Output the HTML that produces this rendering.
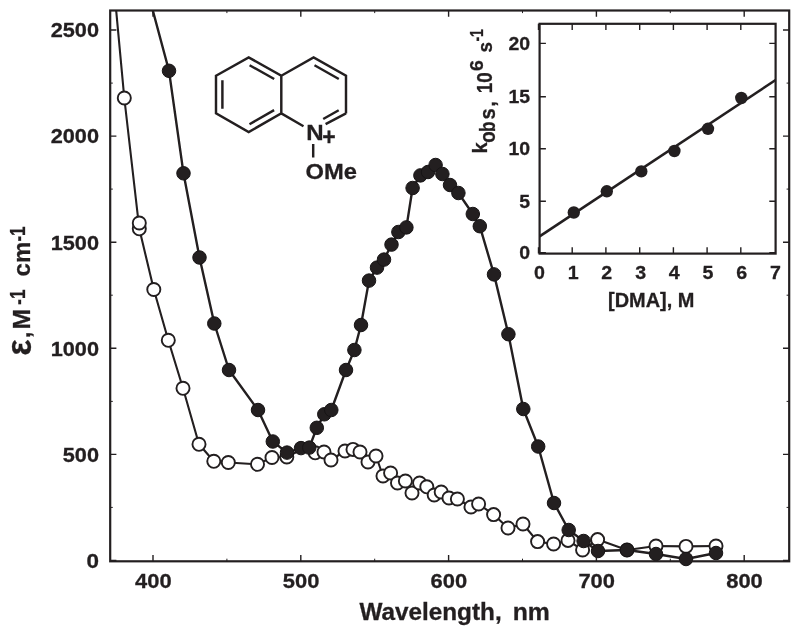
<!DOCTYPE html>
<html lang="en"><head><meta charset="utf-8"><title>Absorption spectra</title>
<style>
html,body{margin:0;padding:0;background:#fff;}
body{width:800px;height:635px;overflow:hidden;}
svg{display:block;}
text{font-family:"Liberation Sans",Arial,Helvetica,sans-serif;font-weight:bold;fill:#231f20;stroke:#231f20;stroke-width:0.3px;}
</style></head><body>
<svg width="800" height="635" viewBox="0 0 800 635">
<rect width="800" height="635" fill="#fff"/>
<defs><clipPath id="mc"><rect x="110.2" y="10.5" width="679.0" height="562.8"/></clipPath></defs>

<g clip-path="url(#mc)">
<polyline points="115.2,0.0 124.3,98.0 139.3,228.8 153.8,289.5 168.3,340.3 183.0,388.3 199.0,444.3 213.8,461.3 228.3,462.5 257.5,464.3 272.0,457.5 286.8,457.0 301.0,449.8 309.3,449.2 315.2,452.8 324.0,452.0 331.0,460.0 345.0,451.0 353.0,449.4 360.0,452.0 368.0,462.0 376.0,456.0 383.0,476.0 390.6,473.0 397.5,483.0 405.4,481.0 412.0,493.0 419.6,483.0 426.8,486.8 434.2,495.0 441.2,492.0 449.0,498.0 457.4,499.0 471.0,507.0 478.6,504.0 493.6,514.6 508.0,528.0 523.0,524.0 537.6,541.6 553.6,544.0 568.0,540.4 582.6,550.0 597.6,539.6 627.0,550.0 656.0,546.0 686.0,546.4 716.0,546.0" fill="none" stroke="#231f20" stroke-width="2.1" stroke-linejoin="round"/>
<circle cx="124.3" cy="98.0" r="6.55" fill="#fff" stroke="#231f20" stroke-width="1.9"/>
<circle cx="139.3" cy="228.8" r="6.55" fill="#fff" stroke="#231f20" stroke-width="1.9"/>
<circle cx="139.3" cy="223.0" r="6.55" fill="#fff" stroke="#231f20" stroke-width="1.9"/>
<circle cx="153.8" cy="289.5" r="6.55" fill="#fff" stroke="#231f20" stroke-width="1.9"/>
<circle cx="168.3" cy="340.3" r="6.55" fill="#fff" stroke="#231f20" stroke-width="1.9"/>
<circle cx="183.0" cy="388.3" r="6.55" fill="#fff" stroke="#231f20" stroke-width="1.9"/>
<circle cx="199.0" cy="444.3" r="6.55" fill="#fff" stroke="#231f20" stroke-width="1.9"/>
<circle cx="213.8" cy="461.3" r="6.55" fill="#fff" stroke="#231f20" stroke-width="1.9"/>
<circle cx="228.3" cy="462.5" r="6.55" fill="#fff" stroke="#231f20" stroke-width="1.9"/>
<circle cx="257.5" cy="464.3" r="6.55" fill="#fff" stroke="#231f20" stroke-width="1.9"/>
<circle cx="272.0" cy="457.5" r="6.55" fill="#fff" stroke="#231f20" stroke-width="1.9"/>
<circle cx="286.8" cy="457.0" r="6.55" fill="#fff" stroke="#231f20" stroke-width="1.9"/>
<circle cx="315.2" cy="452.8" r="6.55" fill="#fff" stroke="#231f20" stroke-width="1.9"/>
<circle cx="324.0" cy="452.0" r="6.55" fill="#fff" stroke="#231f20" stroke-width="1.9"/>
<circle cx="331.0" cy="460.0" r="6.55" fill="#fff" stroke="#231f20" stroke-width="1.9"/>
<circle cx="345.0" cy="451.0" r="6.55" fill="#fff" stroke="#231f20" stroke-width="1.9"/>
<circle cx="353.0" cy="449.4" r="6.55" fill="#fff" stroke="#231f20" stroke-width="1.9"/>
<circle cx="360.0" cy="452.0" r="6.55" fill="#fff" stroke="#231f20" stroke-width="1.9"/>
<circle cx="368.0" cy="462.0" r="6.55" fill="#fff" stroke="#231f20" stroke-width="1.9"/>
<circle cx="376.0" cy="456.0" r="6.55" fill="#fff" stroke="#231f20" stroke-width="1.9"/>
<circle cx="383.0" cy="476.0" r="6.55" fill="#fff" stroke="#231f20" stroke-width="1.9"/>
<circle cx="390.6" cy="473.0" r="6.55" fill="#fff" stroke="#231f20" stroke-width="1.9"/>
<circle cx="397.5" cy="483.0" r="6.55" fill="#fff" stroke="#231f20" stroke-width="1.9"/>
<circle cx="405.4" cy="481.0" r="6.55" fill="#fff" stroke="#231f20" stroke-width="1.9"/>
<circle cx="412.0" cy="493.0" r="6.55" fill="#fff" stroke="#231f20" stroke-width="1.9"/>
<circle cx="419.6" cy="483.0" r="6.55" fill="#fff" stroke="#231f20" stroke-width="1.9"/>
<circle cx="426.8" cy="486.8" r="6.55" fill="#fff" stroke="#231f20" stroke-width="1.9"/>
<circle cx="434.2" cy="495.0" r="6.55" fill="#fff" stroke="#231f20" stroke-width="1.9"/>
<circle cx="441.2" cy="492.0" r="6.55" fill="#fff" stroke="#231f20" stroke-width="1.9"/>
<circle cx="449.0" cy="498.0" r="6.55" fill="#fff" stroke="#231f20" stroke-width="1.9"/>
<circle cx="457.4" cy="499.0" r="6.55" fill="#fff" stroke="#231f20" stroke-width="1.9"/>
<circle cx="471.0" cy="507.0" r="6.55" fill="#fff" stroke="#231f20" stroke-width="1.9"/>
<circle cx="478.6" cy="504.0" r="6.55" fill="#fff" stroke="#231f20" stroke-width="1.9"/>
<circle cx="493.6" cy="514.6" r="6.55" fill="#fff" stroke="#231f20" stroke-width="1.9"/>
<circle cx="508.0" cy="528.0" r="6.55" fill="#fff" stroke="#231f20" stroke-width="1.9"/>
<circle cx="523.0" cy="524.0" r="6.55" fill="#fff" stroke="#231f20" stroke-width="1.9"/>
<circle cx="537.6" cy="541.6" r="6.55" fill="#fff" stroke="#231f20" stroke-width="1.9"/>
<circle cx="553.6" cy="544.0" r="6.55" fill="#fff" stroke="#231f20" stroke-width="1.9"/>
<circle cx="568.0" cy="540.4" r="6.55" fill="#fff" stroke="#231f20" stroke-width="1.9"/>
<circle cx="582.6" cy="550.0" r="6.55" fill="#fff" stroke="#231f20" stroke-width="1.9"/>
<circle cx="597.6" cy="539.6" r="6.55" fill="#fff" stroke="#231f20" stroke-width="1.9"/>
<circle cx="627.0" cy="550.0" r="6.55" fill="#fff" stroke="#231f20" stroke-width="1.9"/>
<circle cx="656.0" cy="546.0" r="6.55" fill="#fff" stroke="#231f20" stroke-width="1.9"/>
<circle cx="686.0" cy="546.4" r="6.55" fill="#fff" stroke="#231f20" stroke-width="1.9"/>
<circle cx="716.0" cy="546.0" r="6.55" fill="#fff" stroke="#231f20" stroke-width="1.9"/>
<polyline points="150.0,0.0 169.0,70.8 183.5,173.3 199.5,257.5 214.3,323.5 229.0,370.0 258.0,410.0 272.8,441.5 287.0,452.6 301.0,448.1 309.3,447.6 316.8,427.8 324.3,414.3 331.3,410.0 346.0,370.0 354.4,350.0 361.0,325.0 369.0,280.6 377.0,267.6 384.0,259.6 391.5,244.6 398.4,232.0 406.4,227.4 412.6,188.0 420.4,175.4 428.0,172.0 435.6,165.0 442.4,174.0 450.0,185.0 458.4,193.0 472.8,214.0 479.8,226.2 494.0,274.4 508.4,334.2 523.3,409.0 538.2,446.5 554.0,503.0 568.7,530.0 583.6,541.0 598.0,551.0 627.0,550.0 656.0,554.0 686.0,559.0 716.0,553.0" fill="none" stroke="#231f20" stroke-width="2.4" stroke-linejoin="round"/>
<circle cx="169.0" cy="70.8" r="6.75" fill="#231f20" stroke="#171415" stroke-width="1"/>
<circle cx="183.5" cy="173.3" r="6.75" fill="#231f20" stroke="#171415" stroke-width="1"/>
<circle cx="199.5" cy="257.5" r="6.75" fill="#231f20" stroke="#171415" stroke-width="1"/>
<circle cx="214.3" cy="323.5" r="6.75" fill="#231f20" stroke="#171415" stroke-width="1"/>
<circle cx="229.0" cy="370.0" r="6.75" fill="#231f20" stroke="#171415" stroke-width="1"/>
<circle cx="258.0" cy="410.0" r="6.75" fill="#231f20" stroke="#171415" stroke-width="1"/>
<circle cx="272.8" cy="441.5" r="6.75" fill="#231f20" stroke="#171415" stroke-width="1"/>
<circle cx="287.0" cy="452.6" r="6.75" fill="#231f20" stroke="#171415" stroke-width="1"/>
<circle cx="301.0" cy="448.1" r="6.75" fill="#231f20" stroke="#171415" stroke-width="1"/>
<circle cx="309.3" cy="447.6" r="6.75" fill="#231f20" stroke="#171415" stroke-width="1"/>
<circle cx="316.8" cy="427.8" r="6.75" fill="#231f20" stroke="#171415" stroke-width="1"/>
<circle cx="324.3" cy="414.3" r="6.75" fill="#231f20" stroke="#171415" stroke-width="1"/>
<circle cx="331.3" cy="410.0" r="6.75" fill="#231f20" stroke="#171415" stroke-width="1"/>
<circle cx="346.0" cy="370.0" r="6.75" fill="#231f20" stroke="#171415" stroke-width="1"/>
<circle cx="354.4" cy="350.0" r="6.75" fill="#231f20" stroke="#171415" stroke-width="1"/>
<circle cx="361.0" cy="325.0" r="6.75" fill="#231f20" stroke="#171415" stroke-width="1"/>
<circle cx="369.0" cy="280.6" r="6.75" fill="#231f20" stroke="#171415" stroke-width="1"/>
<circle cx="377.0" cy="267.6" r="6.75" fill="#231f20" stroke="#171415" stroke-width="1"/>
<circle cx="384.0" cy="259.6" r="6.75" fill="#231f20" stroke="#171415" stroke-width="1"/>
<circle cx="391.5" cy="244.6" r="6.75" fill="#231f20" stroke="#171415" stroke-width="1"/>
<circle cx="398.4" cy="232.0" r="6.75" fill="#231f20" stroke="#171415" stroke-width="1"/>
<circle cx="406.4" cy="227.4" r="6.75" fill="#231f20" stroke="#171415" stroke-width="1"/>
<circle cx="412.6" cy="188.0" r="6.75" fill="#231f20" stroke="#171415" stroke-width="1"/>
<circle cx="420.4" cy="175.4" r="6.75" fill="#231f20" stroke="#171415" stroke-width="1"/>
<circle cx="428.0" cy="172.0" r="6.75" fill="#231f20" stroke="#171415" stroke-width="1"/>
<circle cx="435.6" cy="165.0" r="6.75" fill="#231f20" stroke="#171415" stroke-width="1"/>
<circle cx="442.4" cy="174.0" r="6.75" fill="#231f20" stroke="#171415" stroke-width="1"/>
<circle cx="450.0" cy="185.0" r="6.75" fill="#231f20" stroke="#171415" stroke-width="1"/>
<circle cx="458.4" cy="193.0" r="6.75" fill="#231f20" stroke="#171415" stroke-width="1"/>
<circle cx="472.8" cy="214.0" r="6.75" fill="#231f20" stroke="#171415" stroke-width="1"/>
<circle cx="479.8" cy="226.2" r="6.75" fill="#231f20" stroke="#171415" stroke-width="1"/>
<circle cx="494.0" cy="274.4" r="6.75" fill="#231f20" stroke="#171415" stroke-width="1"/>
<circle cx="508.4" cy="334.2" r="6.75" fill="#231f20" stroke="#171415" stroke-width="1"/>
<circle cx="523.3" cy="409.0" r="6.75" fill="#231f20" stroke="#171415" stroke-width="1"/>
<circle cx="538.2" cy="446.5" r="6.75" fill="#231f20" stroke="#171415" stroke-width="1"/>
<circle cx="554.0" cy="503.0" r="6.75" fill="#231f20" stroke="#171415" stroke-width="1"/>
<circle cx="568.7" cy="530.0" r="6.75" fill="#231f20" stroke="#171415" stroke-width="1"/>
<circle cx="583.6" cy="541.0" r="6.75" fill="#231f20" stroke="#171415" stroke-width="1"/>
<circle cx="598.0" cy="551.0" r="6.75" fill="#231f20" stroke="#171415" stroke-width="1"/>
<circle cx="627.0" cy="550.0" r="6.75" fill="#231f20" stroke="#171415" stroke-width="1"/>
<circle cx="656.0" cy="554.0" r="6.75" fill="#231f20" stroke="#171415" stroke-width="1"/>
<circle cx="686.0" cy="559.0" r="6.75" fill="#231f20" stroke="#171415" stroke-width="1"/>
<circle cx="716.0" cy="553.0" r="6.75" fill="#231f20" stroke="#171415" stroke-width="1"/>
</g>
<rect x="110.2" y="10.5" width="679.0" height="550.8" fill="none" stroke="#231f20" stroke-width="2.2"/>
<path d="M110.2 560.5h6.2M789.2 560.5h-6.2M110.2 454.4h6.2M789.2 454.4h-6.2M110.2 348.3h6.2M789.2 348.3h-6.2M110.2 242.2h6.2M789.2 242.2h-6.2M110.2 136.1h6.2M789.2 136.1h-6.2M110.2 30.0h6.2M789.2 30.0h-6.2M153.0 561.3v-6.2M153.0 10.5v6.2M300.8 561.3v-6.2M300.8 10.5v6.2M448.6 561.3v-6.2M448.6 10.5v6.2M596.4 561.3v-6.2M596.4 10.5v6.2M744.2 561.3v-6.2M744.2 10.5v6.2" stroke="#231f20" stroke-width="1.4" fill="none"/>
<path d="M110.2 507.4h2.6M789.2 507.4h-2.6M110.2 401.4h2.6M789.2 401.4h-2.6M110.2 295.2h2.6M789.2 295.2h-2.6M110.2 189.1h2.6M789.2 189.1h-2.6M110.2 83.1h2.6M789.2 83.1h-2.6M226.9 561.3v-2.6M226.9 10.5v2.6M374.7 561.3v-2.6M374.7 10.5v2.6M522.5 561.3v-2.6M522.5 10.5v2.6M670.3 561.3v-2.6M670.3 10.5v2.6" stroke="#231f20" stroke-width="1" fill="none"/>
<text x="99" y="567.8" font-size="20.6" text-anchor="end" textLength="12.5" lengthAdjust="spacingAndGlyphs">0</text>
<text x="99" y="461.7" font-size="20.6" text-anchor="end" textLength="36.2" lengthAdjust="spacingAndGlyphs">500</text>
<text x="99" y="355.6" font-size="20.6" text-anchor="end" textLength="48.3" lengthAdjust="spacingAndGlyphs">1000</text>
<text x="99" y="249.5" font-size="20.6" text-anchor="end" textLength="48.3" lengthAdjust="spacingAndGlyphs">1500</text>
<text x="99" y="143.4" font-size="20.6" text-anchor="end" textLength="48.3" lengthAdjust="spacingAndGlyphs">2000</text>
<text x="99" y="37.3" font-size="20.6" text-anchor="end" textLength="48.3" lengthAdjust="spacingAndGlyphs">2500</text>
<text x="153.3" y="588.4" font-size="20.4" text-anchor="middle" textLength="36.6" lengthAdjust="spacingAndGlyphs">400</text>
<text x="301.1" y="588.4" font-size="20.4" text-anchor="middle" textLength="36.6" lengthAdjust="spacingAndGlyphs">500</text>
<text x="448.9" y="588.4" font-size="20.4" text-anchor="middle" textLength="36.6" lengthAdjust="spacingAndGlyphs">600</text>
<text x="596.7" y="588.4" font-size="20.4" text-anchor="middle" textLength="36.6" lengthAdjust="spacingAndGlyphs">700</text>
<text x="744.5" y="588.4" font-size="20.4" text-anchor="middle" textLength="36.6" lengthAdjust="spacingAndGlyphs">800</text>
<text x="359.4" y="619.9" font-size="23.3" textLength="142.3" lengthAdjust="spacingAndGlyphs">Wavelength,</text>
<text x="512.7" y="619.9" font-size="23.3" textLength="37.2" lengthAdjust="spacingAndGlyphs">nm</text>
<g transform="translate(29.6 0) rotate(-90)">
<text x="-355.4" y="1.4" font-size="35" textLength="16" lengthAdjust="spacingAndGlyphs">ε</text>
<text x="-338" y="0" font-size="23">,</text>
<text x="-329.6" y="0.6" font-size="23" textLength="20.6" lengthAdjust="spacingAndGlyphs">M</text>
<text x="-304.8" y="-4.2" font-size="22.3" textLength="15.2" lengthAdjust="spacingAndGlyphs">-1</text>
<text x="-276.4" y="0" font-size="23.5" textLength="34.6" lengthAdjust="spacingAndGlyphs">cm</text>
<text x="-241.6" y="-4.8" font-size="22.3" textLength="15.2" lengthAdjust="spacingAndGlyphs">-1</text>
</g>
<rect x="539.6" y="23.8" width="236.0" height="229.8" fill="#fff" stroke="#231f20" stroke-width="2.2"/>
<path d="M538.5 253.6v-6.3M538.5 23.8v6.3M572.2 253.6v-6.3M572.2 23.8v6.3M605.9 253.6v-6.3M605.9 23.8v6.3M639.7 253.6v-6.3M639.7 23.8v6.3M673.4 253.6v-6.3M673.4 23.8v6.3M707.1 253.6v-6.3M707.1 23.8v6.3M740.8 253.6v-6.3M740.8 23.8v6.3M539.6 252.8h6.3M775.6 252.8h-6.3M539.6 201.2h6.3M775.6 201.2h-6.3M539.6 148.7h6.3M775.6 148.7h-6.3M539.6 96.8h6.3M775.6 96.8h-6.3M539.6 43.4h6.3M775.6 43.4h-6.3" stroke="#231f20" stroke-width="1.4" fill="none"/>
<line x1="539.6" y1="236.4" x2="775.6" y2="80" stroke="#231f20" stroke-width="2.6"/>
<circle cx="573.8" cy="212.5" r="6.2" fill="#231f20"/>
<circle cx="606.8" cy="191.3" r="6.2" fill="#231f20"/>
<circle cx="641.3" cy="171.4" r="6.2" fill="#231f20"/>
<circle cx="674.4" cy="151.0" r="6.2" fill="#231f20"/>
<circle cx="708.0" cy="128.8" r="6.2" fill="#231f20"/>
<circle cx="741.3" cy="98.0" r="6.2" fill="#231f20"/>
<text x="539.4" y="279.3" font-size="19.2" text-anchor="middle" textLength="10.9" lengthAdjust="spacingAndGlyphs">0</text>
<text x="573.1" y="279.3" font-size="19.2" text-anchor="middle" textLength="10.9" lengthAdjust="spacingAndGlyphs">1</text>
<text x="606.8" y="279.3" font-size="19.2" text-anchor="middle" textLength="10.9" lengthAdjust="spacingAndGlyphs">2</text>
<text x="640.6" y="279.3" font-size="19.2" text-anchor="middle" textLength="10.9" lengthAdjust="spacingAndGlyphs">3</text>
<text x="674.3" y="279.3" font-size="19.2" text-anchor="middle" textLength="10.9" lengthAdjust="spacingAndGlyphs">4</text>
<text x="708.0" y="279.3" font-size="19.2" text-anchor="middle" textLength="10.9" lengthAdjust="spacingAndGlyphs">5</text>
<text x="741.7" y="279.3" font-size="19.2" text-anchor="middle" textLength="10.9" lengthAdjust="spacingAndGlyphs">6</text>
<text x="775.4" y="279.3" font-size="19.2" text-anchor="middle" textLength="10.9" lengthAdjust="spacingAndGlyphs">7</text>
<text x="530" y="259.3" font-size="19.2" text-anchor="end" textLength="10.8" lengthAdjust="spacingAndGlyphs">0</text>
<text x="530" y="207.7" font-size="19.2" text-anchor="end" textLength="10.8" lengthAdjust="spacingAndGlyphs">5</text>
<text x="530" y="155.2" font-size="19.2" text-anchor="end" textLength="21.6" lengthAdjust="spacingAndGlyphs">10</text>
<text x="530" y="103.3" font-size="19.2" text-anchor="end" textLength="21.6" lengthAdjust="spacingAndGlyphs">15</text>
<text x="530" y="49.9" font-size="19.2" text-anchor="end" textLength="21.6" lengthAdjust="spacingAndGlyphs">20</text>
<text x="608" y="307.4" font-size="20.5" textLength="86.5" lengthAdjust="spacingAndGlyphs">[DMA], M</text>
<g transform="translate(486.6 0) rotate(-90)">
<text x="-153.6" y="0" font-size="20.5" textLength="11.2" lengthAdjust="spacingAndGlyphs">k</text>
<text x="-142.7" y="8.3" font-size="21.5" textLength="11.4" lengthAdjust="spacingAndGlyphs">o</text>
<text x="-132" y="8.3" font-size="21.5" textLength="10.4" lengthAdjust="spacingAndGlyphs">b</text>
<text x="-119.4" y="8.3" font-size="21.5" textLength="11.2" lengthAdjust="spacingAndGlyphs">s</text>
<text x="-106.8" y="8.6" font-size="20.5">,</text>
<text x="-93.2" y="5.2" font-size="21.3" textLength="21" lengthAdjust="spacingAndGlyphs">10</text>
<text x="-71" y="-4" font-size="18.5" textLength="10.8" lengthAdjust="spacingAndGlyphs">6</text>
<text x="-52.6" y="5.5" font-size="20.5" textLength="10.5" lengthAdjust="spacingAndGlyphs">s</text>
<text x="-41.6" y="-4" font-size="18.5" textLength="12.6" lengthAdjust="spacingAndGlyphs">-1</text>
</g>
<path d="M216.0 75.7L248.7 57.4L281.3 75.7L281.3 113.4L248.7 132.0L216.0 113.4ZM281.3 75.7L313.6 57.4L346.0 75.7L346.0 113.4M346.0 113.4L325.6 124.2M281.3 113.4L303.5 126.2M222.4 108.8L222.4 80.3M249.6 65.2L274.2 79.0M274.1 110.1L249.5 124.2M314.5 65.2L338.8 79.0M338.7 110.2L323.2 119.0M313.2 144.0L313.2 157.4" fill="none" stroke="#231f20" stroke-width="2.45" stroke-linejoin="miter"/>
<text x="306.2" y="140.1" font-size="22" textLength="17.4" lengthAdjust="spacingAndGlyphs">N</text>
<text x="329" y="145.2" font-size="23" text-anchor="middle">+</text>
<text x="305.6" y="178.7" font-size="22.4" textLength="51.4" lengthAdjust="spacingAndGlyphs">OMe</text>
</svg></body></html>
